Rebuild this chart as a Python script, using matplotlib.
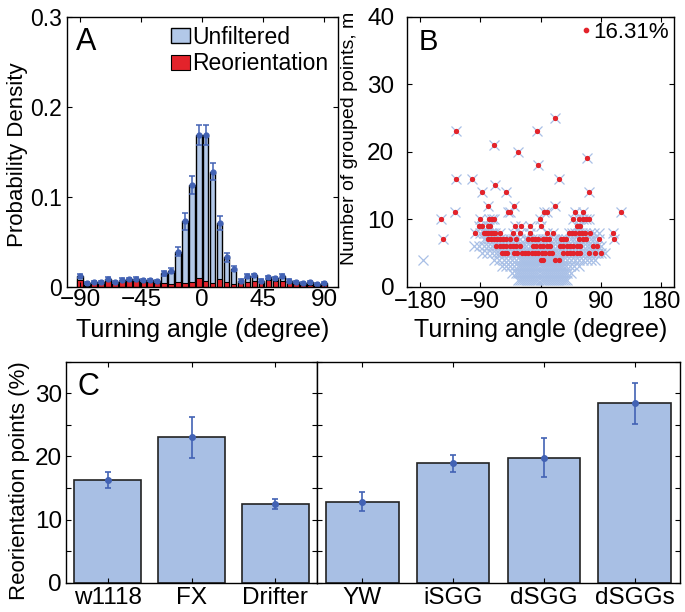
import matplotlib
matplotlib.use('Agg')
import matplotlib.pyplot as plt
import numpy as np
from matplotlib.ticker import MultipleLocator

plt.rcParams['font.family'] = ['Liberation Sans', 'DejaVu Sans']
plt.rcParams['axes.linewidth'] = 1.0
plt.rcParams['xtick.direction'] = 'in'
plt.rcParams['ytick.direction'] = 'in'
plt.rcParams['xtick.top'] = True
plt.rcParams['ytick.right'] = True
plt.rcParams['xtick.major.size'] = 3.5
plt.rcParams['ytick.major.size'] = 3.5
plt.rcParams['ytick.minor.size'] = 3.5
plt.rcParams['xtick.major.width'] = 0.8
plt.rcParams['ytick.major.width'] = 0.8
plt.rcParams['ytick.minor.width'] = 0.8

# --- Panel A: turning angle histogram (36 bins from -90 to 90) ---
unfiltered = [0.012, 0.004, 0.0055, 0.0055, 0.009, 0.0055, 0.008, 0.0085, 0.009,
              0.0075, 0.0075, 0.006, 0.015, 0.018, 0.039, 0.0725, 0.113, 0.169,
              0.169, 0.128, 0.0705, 0.033, 0.020, 0.0067, 0.012, 0.0125, 0.0067,
              0.0104, 0.0093, 0.012, 0.0067, 0.0052, 0.0037, 0.0048, 0.003, 0.0044]
unfiltered_err = [0.002, 0.001, 0.001, 0.001, 0.0015, 0.001, 0.0015, 0.0015, 0.0015,
                  0.0015, 0.001, 0.001, 0.003, 0.003, 0.005, 0.009, 0.010, 0.011,
                  0.011, 0.009, 0.008, 0.005, 0.003, 0.0015, 0.002, 0.002, 0.0015,
                  0.0015, 0.0015, 0.002, 0.0015, 0.001, 0.001, 0.001, 0.001, 0.001]
reorientation = [0.008, 0.001, 0.0045, 0.004, 0.0065, 0.004, 0.006, 0.006, 0.006,
                 0.005, 0.005, 0.004, 0.0037, 0.003, 0.0048, 0.0044, 0.0048, 0.0093,
                 0.0067, 0.0037, 0.0081, 0.0048, 0.003, 0.0037, 0.0055, 0.0063, 0.0048,
                 0.0074, 0.006, 0.0067, 0.0045, 0.0033, 0.002, 0.0018, 0.0015, 0.0018]

# --- Panel B: number of grouped points vs turning angle ---
# light blue crosses (all points that are not reorientation points), one list per m
cloud_m1 = [-33, -30, -27, -24, -21, -18, -15, -12, -9, -6, -3, 0, 3, 6, 9, 12, 15, 18,
            21, 24, 27, 30, 33, 36, 40]
cloud_m2 = [-42, -36, -33, -30, -27, -24, -21, -18, -15, -12, -9, -6, -3, 0, 3, 6, 9, 12,
            15, 18, 21, 24, 27, 30, 33, 36, 40, 46]
cloud_m3 = [-58, -52, -45, -39, -33, -30, -27, -24, -21, -18, -15, -12, -9, -6, -3, 0, 3,
            6, 9, 12, 15, 18, 21, 24, 27, 30, 33, 38, 44, 50, 57]
cloud_m4 = [-175, -70, -62, -55, -48, -42, -36, -30, -27, -24, -21, -18, -15, -12, -9, -6,
            -3, 3, 6, 9, 12, 15, 18, 24, 30, 34, 40, 46, 52, 58, 64, 70, 76, 82]
cloud_m5 = [-88, -80, -72, -66, -62, -45, -32, -25, -20, -15, -10, -5, 0, 5, 10, 20, 24,
            28, 64, 68, 76, 86, 96]
cloud_m6 = [-100, -92, -84, -78, -72, -26, -21, -16, 19, 24, 64, 70, 74, 90]
cloud_m7 = [-84, -40, -30, -23, 20, 25, 45, 50, 76, 80]
cloud_m8 = [-90, 80, 88]

# red reorientation points, one list per m
reo_m4 = [0, 4, 22, 27]
reo_m5 = [-58, -53, -50, -40, -35, -28, -23, -18, -13, -8, -3, 2, 7, 12, 17, 34, 39, 44,
          49, 54, 59, 72, 81, 91]
reo_m6 = [-66, -61, -56, -51, -46, -41, -36, -31, -11, -6, -1, 4, 9, 14, 29, 34, 39, 44,
          49, 54, 59, 79, 84]
reo_m7 = [-145, -78, -74, -70, -65, -61, -56, -51, -46, -36, -18, -13, -8, -3, 4, 8, 12,
          30, 34, 38, 57, 63, 68, 87, 110]
reo_m8 = [-98, -84, -81, -78, -74, -71, -68, -60, -41, -31, -16, 10, 18, 42, 47, 52, 57,
          62, 67, 74, 109]
reo_m9 = [-92, -88, -79, -75, -38, -29, -15, 0, 55, 59]
reo_m10 = [-149, -91, -77, -73, -69, -1, 48, 58, 63, 68, 73]
reo_m11 = [-128, -49, -45, 5, 10, 52, 63, 120]
reo_sparse_angle = [-78, -40, 22, -87, -52, 73, -68, -127, -102, 27, -3, 70, -34, -70,
                    -127, -5, 22]
reo_sparse_m = [12, 12, 12, 14, 14, 14, 15, 16, 16, 16, 18, 19, 20, 21, 23, 23, 25]
reo_percent = '16.31%'

# --- Panel C: reorientation points per strain ---
strains_1 = ['w1118', 'FX', 'Drifter']
pct_1 = [16.3, 23.0, 12.5]
pct_err_1 = [1.3, 3.3, 0.8]
strains_2 = ['YW', 'iSGG', 'dSGG', 'dSGGs']
pct_2 = [12.8, 18.9, 19.8, 28.4]
pct_err_2 = [1.5, 1.4, 3.05, 3.2]

bar_blue = '#a8bfe4'
hist_blue = '#b2c8e8'
red = '#e3232b'
err_blue = '#4262b4'
cross_blue = '#a9c0e6'

fig = plt.figure(figsize=(6.85, 6.12), dpi=100)
W, H = 685.0, 612.0

def box(l, t, r, b):
    return [l / W, 1 - b / H, (r - l) / W, (b - t) / H]

# ---------- A ----------
axA = fig.add_axes(box(66.7, 16.7, 337.7, 286.7))
centers = np.linspace(-90, 90, 36)
bw = (centers[1] - centers[0]) * 0.8
axA.bar(centers, unfiltered, width=bw, color=hist_blue, edgecolor='black', linewidth=1.0,
        label='Unfiltered')
axA.bar(centers, reorientation, width=bw, color=red, edgecolor='black', linewidth=0.8,
        label='Reorientation')
axA.errorbar(centers, unfiltered, yerr=unfiltered_err, fmt='o', color=err_blue, ms=3.5,
             capsize=2.2, elinewidth=1.1, capthick=1.1)
axA.set_xlim(-100, 100)
axA.set_ylim(0, 0.3)
axA.set_xticks([-90, -45, 0, 45, 90])
axA.set_yticks([0, 0.1, 0.2, 0.3])
axA.set_yticklabels(['0', '0.1', '0.2', '0.3'])
axA.tick_params(axis='x', labelsize=17.5, pad=2)
axA.tick_params(axis='y', labelsize=16.5, pad=3.5)
axA.set_xlabel('Turning angle (degree)', fontsize=18)
axA.set_ylabel('Probability Density', fontsize=16)
axA.xaxis.set_label_coords(0.5, -0.115)
axA.yaxis.set_label_coords(-0.143, 0.49)
axA.text(0.035, 0.96, 'A', transform=axA.transAxes, fontsize=22, va='top')
axA.legend(loc='upper right', frameon=False, fontsize=16.5, handlelength=0.85,
           handleheight=0.65, handletextpad=0.1, labelspacing=0.15,
           borderaxespad=0.2, borderpad=0.2)

# ---------- B ----------
axB = fig.add_axes(box(406.7, 16.7, 674.3, 286.7))
cloud_rows = [cloud_m1, cloud_m2, cloud_m3, cloud_m4, cloud_m5, cloud_m6, cloud_m7, cloud_m8]
reo_rows = [(4, reo_m4), (5, reo_m5), (6, reo_m6), (7, reo_m7), (8, reo_m8),
            (9, reo_m9), (10, reo_m10), (11, reo_m11)]
red_angle = [a for m, row in reo_rows for a in row] + reo_sparse_angle
red_m = [m for m, row in reo_rows for a in row] + reo_sparse_m
blue_angle = [a for row in cloud_rows for a in row] + red_angle
blue_m = [i + 1 for i, row in enumerate(cloud_rows) for a in row] + red_m
axB.plot(blue_angle, blue_m, 'x', color=cross_blue, ms=6.5, mew=0.9, ls='none')
axB.plot(red_angle, red_m, 'o', color=red, ms=2.8, ls='none', label=reo_percent)
axB.set_xlim(-200, 200)
axB.set_ylim(0, 40)
axB.set_xticks([-180, -90, 0, 90, 180])
axB.set_yticks([0, 10, 20, 30, 40])
axB.tick_params(axis='x', labelsize=17, pad=3)
axB.tick_params(axis='y', labelsize=17.5, pad=9)
axB.set_xlabel('Turning angle (degree)', fontsize=18)
axB.set_ylabel('Number of grouped points, m', fontsize=14)
axB.xaxis.set_label_coords(0.5, -0.115)
axB.yaxis.set_label_coords(-0.182, 0.55)
axB.text(0.045, 0.96, 'B', transform=axB.transAxes, fontsize=21, va='top')
axB.legend(loc='upper right', frameon=False, fontsize=16, handlelength=0.3,
           handletextpad=0.15, borderaxespad=0.05, borderpad=0.2, markerscale=1.1)

# ---------- C ----------
axC1 = fig.add_axes(box(66, 361.7, 317, 582.7))
axC2 = fig.add_axes(box(317, 361.7, 680, 582.7))
for ax, names, vals, errs in [(axC1, strains_1, pct_1, pct_err_1),
                              (axC2, strains_2, pct_2, pct_err_2)]:
    xs = np.arange(1, len(names) + 1)
    ax.bar(xs, vals, width=0.8, color=bar_blue, edgecolor='#222222', linewidth=1.2)
    ax.errorbar(xs, vals, yerr=errs, fmt='o', color=err_blue, ms=4, capsize=2.5,
                elinewidth=1.2, capthick=1.2)
    ax.set_xlim(0.5, len(names) + 0.5)
    ax.set_ylim(0, 35)
    ax.set_xticks(xs)
    ax.set_xticklabels(names)
    ax.yaxis.set_major_locator(MultipleLocator(10))
    ax.yaxis.set_minor_locator(MultipleLocator(5))
    ax.tick_params(axis='x', labelsize=17.5, pad=3)
    ax.tick_params(axis='y', which='both', labelsize=17.5, pad=3)
axC2.tick_params(axis='y', which='both', labelleft=False)
axC1.set_ylabel('Reorientation points (%)', fontsize=16)
axC1.yaxis.set_label_coords(-0.143, 0.46)
axC1.text(0.045, 0.955, 'C', transform=axC1.transAxes, fontsize=22, va='top')

fig.savefig('out.png', dpi=100)
